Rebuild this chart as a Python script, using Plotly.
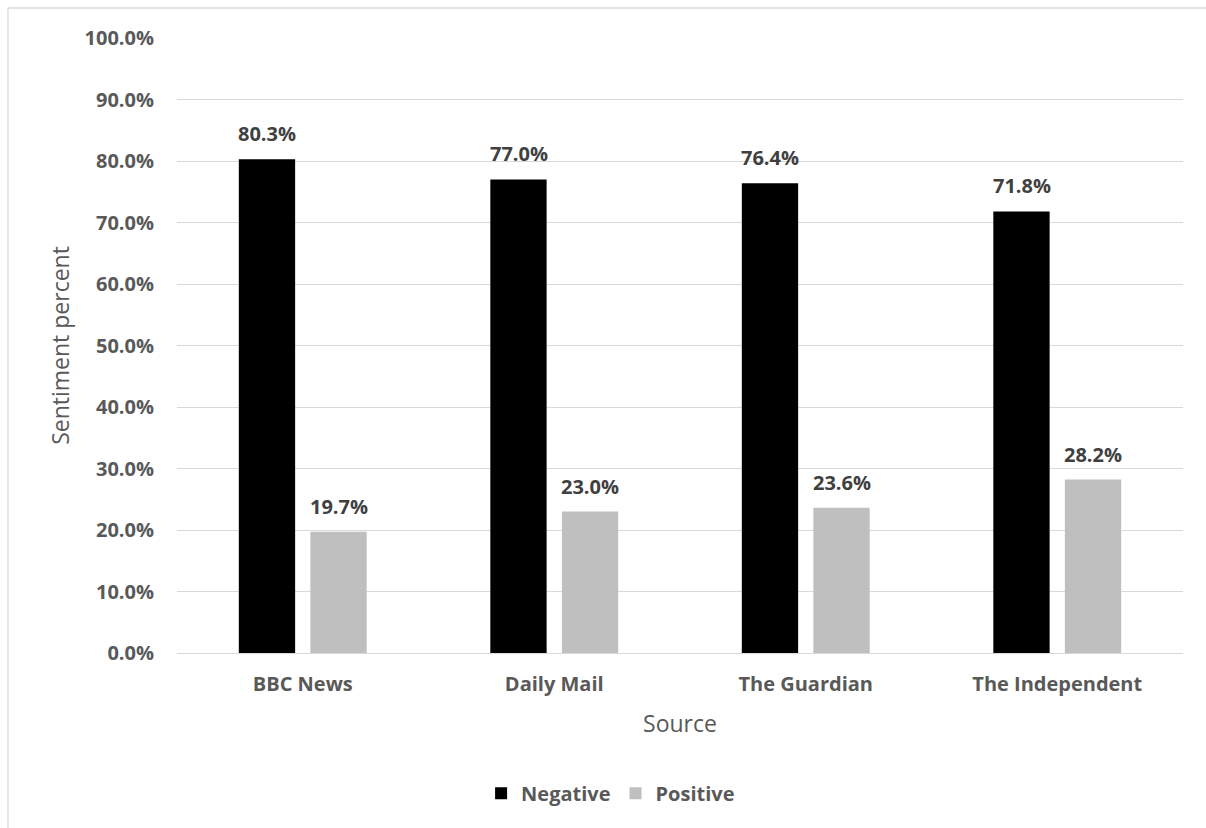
import plotly.graph_objects as go

sources = ["BBC News", "Daily Mail", "The Guardian", "The Independent"]
negative = [80.3, 77.0, 76.4, 71.8]
positive = [19.7, 23.0, 23.6, 28.2]
y_ticks = [0, 10, 20, 30, 40, 50, 60, 70, 80, 90, 100]
y_tick_labels = ["0.0%", "10.0%", "20.0%", "30.0%", "40.0%", "50.0%",
                 "60.0%", "70.0%", "80.0%", "90.0%", "100.0%"]

FONT = "Open Sans"
GREY = "#595959"

fig = go.Figure()
fig.add_trace(go.Bar(name="Negative", x=sources, y=negative,
                     marker=dict(color="#000000", line=dict(width=0))))
fig.add_trace(go.Bar(name="Positive", x=sources, y=positive,
                     marker=dict(color="#bfbfbf", line=dict(width=0))))

# data labels
for vals, shift in ((negative, -35.75), (positive, 35.75)):
    for s, v in zip(sources, vals):
        fig.add_annotation(x=s, y=v, text=f"{v:.1f}%", showarrow=False,
                           xshift=shift, yshift=10, yanchor="bottom",
                           font=dict(family=FONT, size=20, color="#404040", weight="bold"))

# outer chart frame (top and left edges visible; the rest is cropped)
fig.add_shape(type="line", xref="paper", yref="paper",
              x0=-0.168, x1=1.5, y0=1.0488, y1=1.0488,
              line=dict(color="#d9d9d9", width=1.3), layer="below")
fig.add_shape(type="line", xref="paper", yref="paper",
              x0=-0.168, x1=-0.168, y0=-0.8, y1=1.0488,
              line=dict(color="#d9d9d9", width=1.3), layer="below")

fig.update_layout(
    width=1206, height=828,
    margin=dict(l=177, r=23, t=38, b=175),
    paper_bgcolor="white", plot_bgcolor="white",
    barmode="group", bargap=0.431, bargroupgap=0.213,
    font=dict(family=FONT, color=GREY),
    showlegend=True,
    legend=dict(orientation="h", x=0.431, xanchor="center", y=-0.228, yanchor="middle",
                font=dict(family=FONT, size=20, color=GREY, weight="bold"),
                itemwidth=30, traceorder="normal"),
    xaxis=dict(
        title=dict(text="Source", font=dict(family=FONT, size=23, color=GREY), standoff=19),
        tickfont=dict(family=FONT, size=20, color=GREY, weight="bold"),
        showline=True, linecolor="#d9d9d9", linewidth=1.3,
        ticks="", ticklabelstandoff=13, automargin=False,
    ),
    yaxis=dict(
        title=dict(text="Sentiment percent", font=dict(family=FONT, size=23, color=GREY), standoff=8),
        range=[0, 100], tickvals=y_ticks, ticktext=y_tick_labels,
        tickfont=dict(family=FONT, size=20, color=GREY, weight="bold"),
        showgrid=True, gridcolor="#d9d9d9", gridwidth=1.3,
        zeroline=False, showline=False, ticks="", ticklabelstandoff=22, automargin=False,
    ),
)

fig.write_html("out.html")
